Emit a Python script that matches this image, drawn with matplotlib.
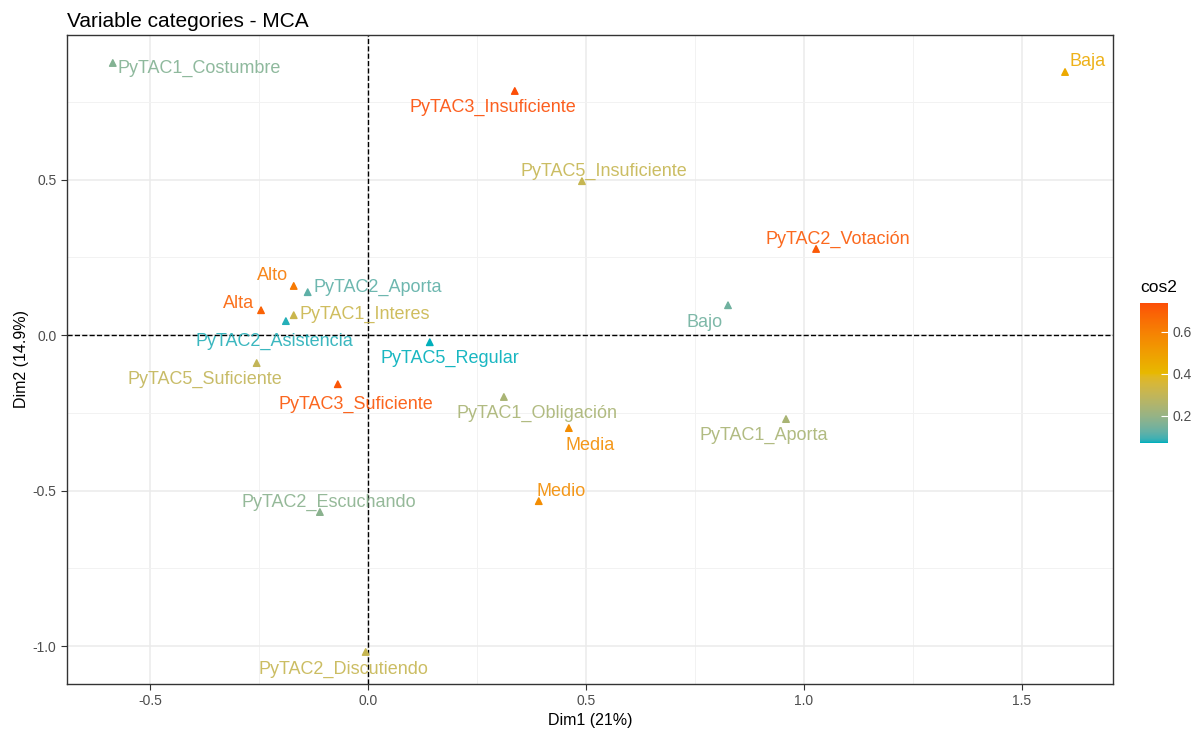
import numpy as np
import matplotlib
matplotlib.use("Agg")
from matplotlib import pyplot as plt
from matplotlib.colors import ListedColormap, Normalize, to_rgb

plt.rcParams['font.family'] = ['Liberation Sans', 'DejaVu Sans']
plt.rcParams['axes.unicode_minus'] = False

# variable categories of the MCA
labels = ["PyTAC1_Costumbre", "Baja", "PyTAC3_Insuficiente", "PyTAC5_Insuficiente",
          "PyTAC2_Votación", "Bajo", "Alto", "PyTAC2_Aporta", "Alta", "PyTAC1_Interes",
          "PyTAC2_Asistencia", "PyTAC5_Regular", "PyTAC5_Suficiente", "PyTAC3_Suficiente",
          "PyTAC1_Obligación", "PyTAC1_Aporta", "Media", "Medio", "PyTAC2_Escuchando",
          "PyTAC2_Discutiendo"]
dim1 = [-0.585, 1.599, 0.337, 0.491, 1.028, 0.826, -0.170, -0.138, -0.245, -0.170,
        -0.188, 0.142, -0.255, -0.069, 0.312, 0.959, 0.461, 0.392, -0.110, -0.005]
dim2 = [0.875, 0.846, 0.785, 0.495, 0.277, 0.096, 0.158, 0.138, 0.080, 0.064,
        0.045, -0.023, -0.090, -0.158, -0.199, -0.270, -0.299, -0.534, -0.569, -1.019]
cos2 = [0.17, 0.46, 0.738, 0.31, 0.71, 0.14, 0.62, 0.12, 0.69, 0.32,
        0.08, 0.071, 0.30, 0.72, 0.24, 0.24, 0.56, 0.56, 0.18, 0.31]

# label placement (pixels from the point, like ggrepel did it)
offsets = [(5, -5, "left"), (4, 11, "left"), (-22, -16, "center"), (22, 10, "center"),
           (22, 10, "center"), (-23, -17, "center"), (-21, 10, "center"), (6, 5, "left"),
           (-22, 7, "center"), (6, 1, "left"), (-12, -20, "center"), (20, -16, "center"),
           (-52, -16, "center"), (18, -20, "center"), (33, -16, "center"), (-22, -16, "center"),
           (21, -17, "center"), (22, 10, "center"), (9, 10, "center"), (-22, -17, "center")]


# gradient interpolated in Lab space, as ggplot does
def rgb2lab(c):
    c = np.array(c)
    c = np.where(c > 0.04045, ((c + 0.055) / 1.055) ** 2.4, c / 12.92)
    M = np.array([[0.4124, 0.3576, 0.1805], [0.2126, 0.7152, 0.0722], [0.0193, 0.1192, 0.9505]])
    xyz = M @ c / np.array([0.95047, 1.0, 1.08883])
    f = np.where(xyz > 0.008856, np.cbrt(xyz), 7.787 * xyz + 16 / 116)
    return np.array([116 * f[1] - 16, 500 * (f[0] - f[1]), 200 * (f[1] - f[2])])


def lab2rgb(lab):
    fy = (lab[0] + 16) / 116
    fx = fy + lab[1] / 500
    fz = fy - lab[2] / 200
    f = np.array([fx, fy, fz])
    xyz = np.where(f ** 3 > 0.008856, f ** 3, (f - 16 / 116) / 7.787) * np.array([0.95047, 1.0, 1.08883])
    Mi = np.array([[3.2406, -1.5372, -0.4986], [-0.9689, 1.8758, 0.0415], [0.0557, -0.2040, 1.0570]])
    c = Mi @ xyz
    c = np.where(c > 0.0031308, 1.055 * np.abs(c) ** (1 / 2.4) - 0.055, 12.92 * c)
    return np.clip(c, 0, 1)


stops = [rgb2lab(to_rgb(h)) for h in ["#00AFBB", "#E7B800", "#FC4E07"]]
cols = []
for t in np.linspace(0, 1, 256):
    if t <= 0.5:
        lab = stops[0] + (stops[1] - stops[0]) * (t / 0.5)
    else:
        lab = stops[1] + (stops[2] - stops[1]) * ((t - 0.5) / 0.5)
    cols.append(lab2rgb(lab))
cmap = ListedColormap(cols)
norm = Normalize(vmin=min(cos2), vmax=max(cos2))

fig = plt.figure(figsize=(12.02, 7.31), dpi=100)
ax = fig.add_axes([67/1202, 1-684/731, (1113-67)/1202, (684-35)/731])

ax.set_xticks([-0.5, 0.0, 0.5, 1.0, 1.5])
ax.set_yticks([-1.0, -0.5, 0.0, 0.5])
ax.set_xticks(np.arange(-0.75, 1.8, 0.25), minor=True)
ax.set_yticks(np.arange(-1.25, 1.0, 0.25), minor=True)
ax.set_xlim(-0.69, 1.709)
ax.set_ylim(-1.122, 0.965)
ax.grid(which="major", color="#EBEBEB", lw=1.1)
ax.grid(which="minor", color="#F2F2F2", lw=0.7)
ax.set_axisbelow(True)
ax.tick_params(which="minor", length=0)
ax.tick_params(which="major", length=4, color="#333333", labelsize=10, labelcolor="#4D4D4D")
for s in ax.spines.values():
    s.set_color("#333333")
    s.set_linewidth(1.0)

ax.axhline(0, color="black", ls="--", lw=1)
ax.axvline(0, color="black", ls="--", lw=1)

sc = ax.scatter(dim1, dim2, c=cos2, cmap=cmap, norm=norm, marker="^", s=22, zorder=3)

for i, lab in enumerate(labels):
    dx, dy, ha = offsets[i]
    ax.annotate(lab, (dim1[i], dim2[i]), xytext=(dx, dy), textcoords="offset pixels",
                ha=ha, va="center", fontsize=13, color=cmap(norm(cos2[i])), alpha=0.9, zorder=4)

ax.set_xlabel("Dim1 (21%)", fontsize=11.5, labelpad=3)
ax.set_ylabel("Dim2 (14.9%)", fontsize=11.5, labelpad=3)
ax.set_title("Variable categories - MCA", fontsize=15, loc="left", pad=6)

cax = fig.add_axes([1140/1202, 1-443/731, 28/1202, 140/731])
cb = fig.colorbar(sc, cax=cax, ticks=[0.2, 0.4, 0.6])
cb.outline.set_visible(False)
cb.ax.tick_params(length=5, color="white", direction="in", labelsize=10, labelcolor="#4D4D4D")
cb.ax.set_yticklabels(["0.2", "0.4", "0.6"])
cb.ax.set_title("cos2", fontsize=12.5, loc="left", pad=8)

fig.savefig("out.png", dpi=100)
